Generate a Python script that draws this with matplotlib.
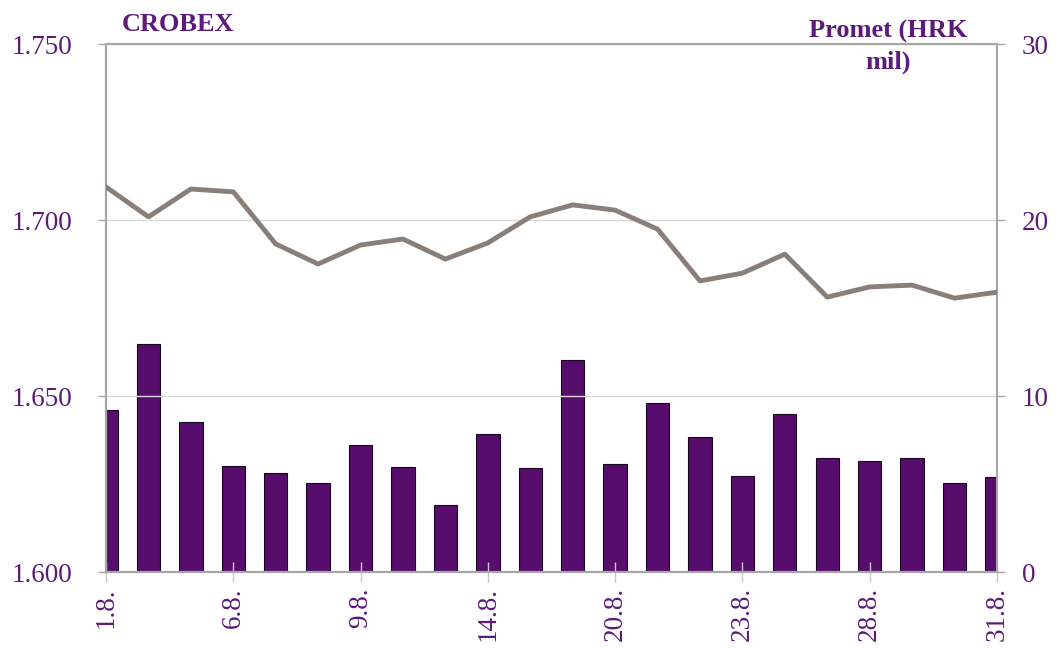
import matplotlib
matplotlib.use("Agg")
import matplotlib.pyplot as plt
import numpy as np

# Trading days, August
days = ["1.8.", "2.8.", "3.8.", "6.8.", "7.8.", "8.8.", "9.8.", "10.8.", "13.8.", "14.8.", "16.8.",
        "17.8.", "20.8.", "21.8.", "22.8.", "23.8.", "24.8.", "27.8.", "28.8.", "29.8.", "30.8.", "31.8."]
crobex = [1709.4, 1700.9, 1708.8, 1708.0, 1693.2, 1687.5, 1692.9, 1694.6, 1688.9, 1693.5, 1700.9,
          1704.3, 1702.8, 1697.4, 1682.7, 1684.9, 1690.3, 1678.1, 1681.0, 1681.5, 1677.8, 1679.5]
promet = [9.2, 12.95, 8.5, 6.0, 5.65, 5.05, 7.2, 5.95, 3.8, 7.85, 5.9,
          12.05, 6.15, 9.6, 7.7, 5.45, 9.0, 6.5, 6.3, 6.5, 5.05, 5.4]
shown_ticks = [0, 3, 6, 9, 12, 15, 18, 21]

PURPLE_TXT = "#5c1a7a"
BAR = "#560d6c"
LINE = "#8a7f78"
AXIS_GRAY = "#a6a6a6"

plt.rcParams["font.family"] = ["Liberation Serif", "DejaVu Serif"]

fig = plt.figure(figsize=(10.57, 6.49), dpi=100)
ax = fig.add_axes([0.1003, 0.1186, 0.8429, 0.8136])
ax2 = ax.twinx()

x = np.arange(len(days))

# bars on the right axis, drawn beneath the line
ax.set_zorder(ax2.get_zorder() + 1)
ax.patch.set_visible(False)
ax2.bar(x, promet, width=0.55, color=BAR, edgecolor="#1a0520", linewidth=0.8, zorder=2)
ax.plot(x, crobex, color=LINE, lw=3.5, solid_joinstyle="round", zorder=3)

ax.set_xlim(0, len(days) - 1)
ax.set_ylim(1600, 1750)
ax2.set_ylim(0, 30)

ax.set_yticks([1600, 1650, 1700, 1750])
ax.set_yticklabels(["1.600", "1.650", "1.700", "1.750"])
ax2.set_yticks([0, 10, 20, 30])
ax2.grid(False)
ax.grid(axis="y", color="#d9d9d9", lw=1)
ax.set_axisbelow(True)

ax.set_xticks(shown_ticks)
ax.set_xticklabels([days[i] for i in shown_ticks], rotation=90)

for a in (ax, ax2):
    for s in a.spines.values():
        s.set_color(AXIS_GRAY)
        s.set_linewidth(1.5)
ax2.spines["right"].set_color("#222222")
ax2.spines["right"].set_linewidth(1.2)

ax.tick_params(axis="y", colors=AXIS_GRAY, labelcolor=PURPLE_TXT, labelsize=19.5, length=6, width=1, pad=18)
ax2.tick_params(axis="y", colors=AXIS_GRAY, labelcolor=PURPLE_TXT, labelsize=19.5, length=6, width=1, pad=12)
ax.tick_params(axis="x", colors="#c8c8c8", labelcolor=PURPLE_TXT, labelsize=19.5, direction="inout",
               length=14, width=1, pad=4)

fig.text(0.168, 0.963, "CROBEX", color=PURPLE_TXT, fontsize=19, fontweight="bold",
         ha="center", va="center")
fig.text(0.84, 0.928, "Promet (HRK\nmil)", color=PURPLE_TXT, fontsize=19, fontweight="bold",
         ha="center", va="center", linespacing=1.4)

fig.savefig("out.png", dpi=100)
